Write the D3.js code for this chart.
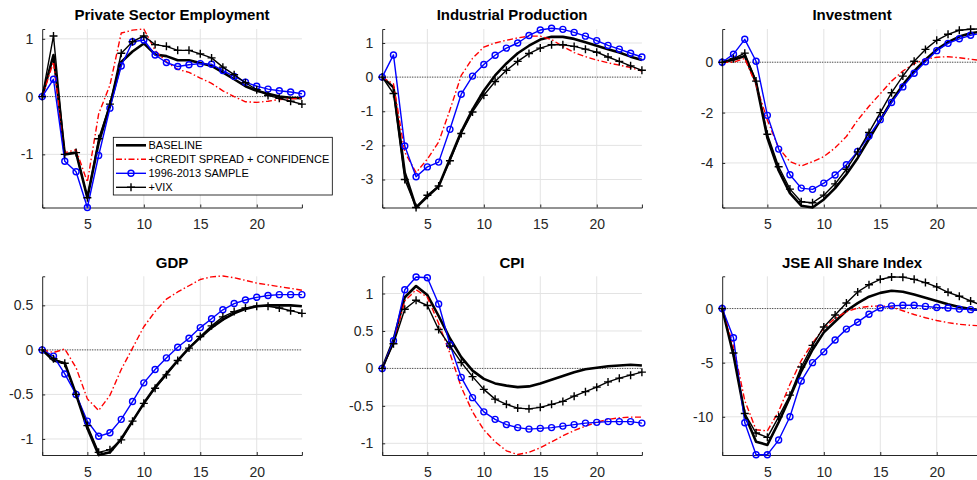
<!DOCTYPE html>
<html><head><meta charset="utf-8">
<script src="https://cdn.jsdelivr.net/npm/d3@7"></script>
<style>body{margin:0;background:#fff;}svg{display:block;font-family:"Liberation Sans",Arial,sans-serif;}</style>
</head><body><svg id="c" width="977" height="480"></svg>
<script>
const horizons = d3.range(1, 25);
const titles = ["Private Sector Employment","Industrial Production","Investment","GDP","CPI","JSE All Share Index"];
const seriesNames = ["BASELINE","+CREDIT SPREAD + CONFIDENCE","1996-2013 SAMPLE","+VIX"];
const xTicks = [5,10,15,20];
const yTicks = [[-1,0,1],[-3,-2,-1,0,1],[-4,-2,0],[-1,-0.5,0,0.5],[-1,-0.5,0,0.5,1],[-10,-5,0]];
const yDomains = [[-1.92,1.17],[-3.82,1.41],[-5.77,1.32],[-1.18,0.826],[-1.156,1.23],[-13.53,2.98]];

// Private Sector Employment
const empBase  = [0,0.72,-1.0,-0.97,-1.75,-0.8,-0.15,0.6,0.78,0.92,0.73,0.7,0.63,0.63,0.58,0.53,0.42,0.3,0.18,0.1,0.05,0.0,-0.02,-0.03];
const empCred  = [0,0.6,-0.97,-0.92,-1.48,-0.3,0.2,1.1,1.15,1.17,0.8,0.6,0.47,0.42,0.32,0.23,0.1,0.0,-0.09,-0.1,-0.08,-0.05,-0.04,-0.03];
const empSamp  = [0,0.3,-1.12,-1.3,-1.92,-1.02,-0.2,0.53,0.95,0.98,0.72,0.59,0.52,0.55,0.57,0.56,0.45,0.35,0.25,0.18,0.13,0.1,0.08,0.05];
const empVix   = [0,1.05,-1.0,-0.97,-1.75,-0.73,-0.13,0.75,0.95,1.05,0.9,0.87,0.8,0.8,0.74,0.67,0.51,0.38,0.24,0.12,0.02,-0.03,-0.08,-0.13];
// Industrial Production
const ipBase   = [0,-0.3,-2.8,-3.82,-3.5,-3.2,-2.4,-1.6,-0.95,-0.4,0.05,0.4,0.7,0.92,1.1,1.18,1.18,1.12,1.02,0.92,0.82,0.72,0.6,0.5];
const ipCred   = [0,-0.2,-2.2,-2.8,-2.4,-1.9,-0.96,0.05,0.55,0.88,1.0,1.08,1.15,1.2,1.2,1.1,0.9,0.72,0.6,0.5,0.42,0.35,0.28,0.18];
const ipSamp   = [0,0.65,-2.02,-2.92,-2.63,-2.49,-1.53,-0.5,0.03,0.37,0.64,0.85,1.0,1.22,1.38,1.43,1.4,1.31,1.2,1.07,0.93,0.82,0.7,0.59];
const ipVix    = [0,-0.48,-3.0,-3.82,-3.46,-3.19,-2.45,-1.65,-1.02,-0.53,-0.13,0.2,0.46,0.69,0.85,0.95,0.95,0.9,0.82,0.73,0.59,0.46,0.33,0.2];
// Investment
const invBase  = [0,0.1,0.25,-0.8,-3.0,-4.3,-5.2,-5.7,-5.77,-5.45,-5.0,-4.45,-3.8,-3.05,-2.3,-1.55,-0.9,-0.35,0.1,0.5,0.8,1.02,1.15,1.22];
const invCred  = [0,0.0,0.15,-0.9,-2.3,-3.4,-3.95,-4.12,-3.95,-3.75,-3.4,-2.95,-2.3,-1.75,-1.25,-0.75,-0.35,-0.05,0.12,0.2,0.22,0.18,0.12,0.07];
const invSamp  = [0,0.32,0.91,0.04,-2.11,-3.45,-4.47,-5.0,-5.05,-4.8,-4.48,-4.07,-3.54,-2.93,-2.28,-1.6,-0.98,-0.44,0.02,0.46,0.75,0.93,1.07,1.15];
const invVix   = [0,0.14,0.36,-0.75,-2.86,-4.15,-5.04,-5.54,-5.58,-5.28,-4.83,-4.25,-3.56,-2.79,-2.0,-1.21,-0.55,0.04,0.51,0.87,1.11,1.27,1.31,1.33];
// GDP
const gdpBase  = [0,-0.12,-0.15,-0.5,-0.88,-1.18,-1.15,-1.0,-0.8,-0.6,-0.42,-0.27,-0.12,0.02,0.14,0.25,0.34,0.41,0.46,0.49,0.5,0.5,0.5,0.49];
const gdpCred  = [0,-0.03,0.01,-0.2,-0.55,-0.68,-0.51,-0.22,0.02,0.26,0.43,0.57,0.65,0.72,0.79,0.82,0.83,0.81,0.78,0.75,0.73,0.71,0.69,0.67];
const gdpSamp  = [0,-0.07,-0.27,-0.5,-0.8,-0.97,-0.93,-0.78,-0.58,-0.37,-0.22,-0.09,0.03,0.13,0.25,0.35,0.45,0.52,0.56,0.59,0.61,0.62,0.62,0.62];
const gdpVix   = [0,-0.1,-0.15,-0.5,-0.85,-1.15,-1.12,-1.01,-0.8,-0.6,-0.43,-0.28,-0.12,0.02,0.15,0.27,0.37,0.43,0.47,0.49,0.49,0.47,0.44,0.41];
// CPI
const cpiBase  = [0,0.38,0.95,1.1,0.98,0.7,0.4,0.15,-0.03,-0.14,-0.2,-0.23,-0.25,-0.24,-0.2,-0.15,-0.1,-0.05,-0.01,0.01,0.03,0.04,0.05,0.04];
const cpiCred  = [0,0.35,0.9,1.05,0.95,0.6,0.2,-0.25,-0.58,-0.82,-0.98,-1.1,-1.15,-1.12,-1.06,-0.98,-0.9,-0.83,-0.77,-0.72,-0.68,-0.66,-0.65,-0.65];
const cpiSamp  = [0,0.37,1.05,1.22,1.21,0.86,0.32,-0.12,-0.39,-0.58,-0.68,-0.75,-0.79,-0.81,-0.8,-0.79,-0.77,-0.75,-0.73,-0.72,-0.71,-0.71,-0.71,-0.73];
const cpiVix   = [0,0.33,0.79,0.91,0.84,0.52,0.3,0.08,-0.11,-0.28,-0.41,-0.48,-0.53,-0.54,-0.52,-0.48,-0.44,-0.37,-0.31,-0.25,-0.18,-0.13,-0.09,-0.05];
// JSE All Share Index
const jseBase  = [0,-4.3,-9.8,-12.3,-12.6,-10.5,-8.2,-5.8,-3.8,-2.2,-1.2,-0.2,0.5,1.1,1.45,1.65,1.55,1.3,1.0,0.7,0.4,0.15,-0.05,-0.15];
const jseCred  = [0,-3.5,-8.5,-11.2,-11.3,-9.5,-7.0,-4.8,-3.2,-1.8,-0.9,-0.3,0.05,0.2,0.25,0.15,-0.2,-0.55,-0.85,-1.1,-1.3,-1.45,-1.55,-1.6];
const jseSamp  = [0,-2.7,-10.55,-13.5,-13.5,-12.15,-10.0,-6.7,-5.0,-4.0,-2.9,-1.9,-1.26,-0.52,0.06,0.25,0.3,0.3,0.2,0.1,0.05,-0.05,-0.1,-0.15];
const jseVix   = [0,-4.1,-9.7,-11.5,-11.9,-10.0,-8.0,-5.4,-3.4,-1.7,-0.6,0.52,1.54,2.2,2.7,2.92,2.9,2.7,2.4,2.0,1.5,1.14,0.7,0.3];

const panelData = [
  [empBase,empCred,empSamp,empVix],
  [ipBase,ipCred,ipSamp,ipVix],
  [invBase,invCred,invSamp,invVix],
  [gdpBase,gdpCred,gdpSamp,gdpVix],
  [cpiBase,cpiCred,cpiSamp,cpiVix],
  [jseBase,jseCred,jseSamp,jseVix]
];

const svg = d3.select("#c");
const colLeft = [42.2, 382.2, 722.2];
const plotW = 259.7;
const rowTop = [29, 276.3];
const rowBot = [207.5, 455];
const styles = [
  {color:"#000", width:2.6, dash:null, marker:null},
  {color:"#ff0000", width:1.4, dash:"6,2.5,1.5,2.5", marker:null},
  {color:"#0000ff", width:1.4, dash:null, marker:"o"},
  {color:"#000", width:1.4, dash:null, marker:"+"}
];

panelData.forEach((series, i) => {
  const col = i % 3, row = Math.floor(i / 3);
  const x = d3.scaleLinear().domain([1,24]).range([colLeft[col], colLeft[col] + plotW]);
  const y = d3.scaleLinear().domain(yDomains[i]).range([rowBot[row], rowTop[row]]);
  const g = svg.append("g");
  // grid
  g.selectAll(".vg").data(xTicks).join("line")
    .attr("x1", d => x(d)).attr("x2", d => x(d))
    .attr("y1", rowTop[row]).attr("y2", rowBot[row])
    .attr("stroke", "#e3e3e3").attr("stroke-width", 1);
  g.selectAll(".hg").data(yTicks[i]).join("line")
    .attr("x1", x(1)).attr("x2", x(24))
    .attr("y1", d => y(d)).attr("y2", d => y(d))
    .attr("stroke", "#e3e3e3").attr("stroke-width", 1);
  // axes
  const xa = d3.axisBottom(x).tickValues(xTicks).tickSize(-3).tickPadding(12).tickFormat(d3.format("d"));
  const ya = d3.axisLeft(y).tickValues(yTicks[i]).tickSize(-3).tickPadding(9).tickFormat(d => String(d));
  const gx = g.append("g").attr("transform", `translate(0,${rowBot[row]})`).call(xa);
  const gy = g.append("g").attr("transform", `translate(${colLeft[col]},0)`).call(ya);
  [gx, gy].forEach(a => {
    a.select(".domain").attr("stroke", "#262626").attr("stroke-width", 1);
    a.selectAll(".tick line").attr("stroke", "#262626");
    a.selectAll("text").attr("fill", "#262626").style("font-size", "14px").style("font-family", "Liberation Sans, Arial, sans-serif");
  });
  // zero line
  g.append("line").attr("x1", x(1)).attr("x2", x(24)).attr("y1", y(0)).attr("y2", y(0))
    .attr("stroke", "#000").attr("stroke-width", 0.8).attr("stroke-dasharray", "1,1.5");
  // series
  series.forEach((vals, s) => {
    const st = styles[s];
    const line = d3.line().x((d, k) => x(horizons[k])).y(d => y(d));
    g.append("path").datum(vals).attr("d", line).attr("fill", "none")
      .attr("stroke", st.color).attr("stroke-width", st.width)
      .attr("stroke-dasharray", st.dash).attr("stroke-linejoin", "round");
    if (st.marker === "o") {
      g.selectAll(null).data(vals).join("circle")
        .attr("cx", (d, k) => x(horizons[k])).attr("cy", d => y(d)).attr("r", 3)
        .attr("fill", "none").attr("stroke", st.color).attr("stroke-width", 1.4);
    } else if (st.marker === "+") {
      g.selectAll(null).data(vals).join("path")
        .attr("d", (d, k) => { const cx = x(horizons[k]), cy = y(d); return `M${cx-4},${cy}H${cx+4}M${cx},${cy-4}V${cy+4}`; })
        .attr("stroke", st.color).attr("stroke-width", 1.4);
    }
  });
  // title
  svg.append("text").attr("x", colLeft[col] + plotW/2).attr("y", row === 0 ? 20 : 268)
    .attr("text-anchor", "middle").style("font-size", "15px").style("font-weight", "bold")
    .attr("fill", "#000").text(titles[i]);
});

// legend in first panel
const lg = svg.append("g");
lg.append("rect").attr("x", 113.3).attr("y", 137.3).attr("width", 219).attr("height", 57.7)
  .attr("fill", "#fff").attr("stroke", "#000").attr("stroke-width", 0.8);
seriesNames.forEach((name, s) => {
  const st = styles[s];
  const yy = 145.3 + s * 14;
  lg.append("line").attr("x1", 116).attr("x2", 146).attr("y1", yy).attr("y2", yy)
    .attr("stroke", st.color).attr("stroke-width", st.width).attr("stroke-dasharray", st.dash);
  if (st.marker === "o") lg.append("circle").attr("cx", 131).attr("cy", yy).attr("r", 3)
    .attr("fill", "none").attr("stroke", st.color).attr("stroke-width", 1.4);
  if (st.marker === "+") lg.append("path").attr("d", `M127,${yy}H135M131,${yy-4}V${yy+4}`)
    .attr("stroke", st.color).attr("stroke-width", 1.4);
  lg.append("text").attr("x", 148.5).attr("y", yy + 4).style("font-size", "11px")
    .attr("fill", "#000").text(name);
});
</script></body></html>
